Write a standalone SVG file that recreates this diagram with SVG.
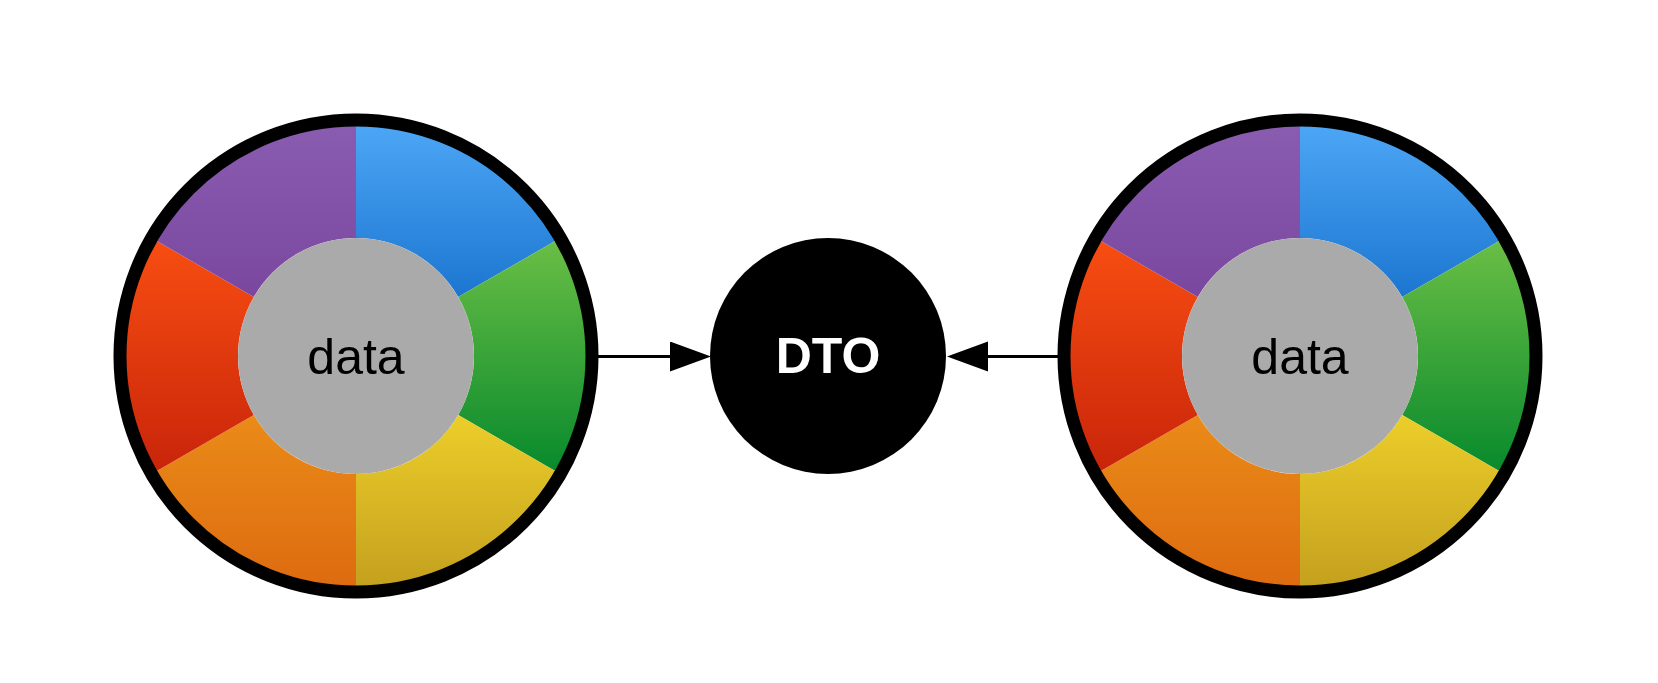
<svg xmlns="http://www.w3.org/2000/svg" width="1658" height="683" viewBox="0 0 1658 683">
<style>
.ring{fill:none;stroke:#000;stroke-width:13}
.hub{fill:#aaaaaa}
.lbl{font-family:"Liberation Sans",Arial,Helvetica,sans-serif;font-size:50px;text-anchor:middle}
.edge{stroke:#000;stroke-width:3;fill:none}
</style>
<defs>
<linearGradient id="gBlue" x1="0" y1="0" x2="0" y2="1"><stop offset="0" stop-color="#4ea7f6"/><stop offset="1" stop-color="#1c76d0"/></linearGradient>
<linearGradient id="gGreen" x1="0" y1="0" x2="0" y2="1"><stop offset="0" stop-color="#6bbf46"/><stop offset="1" stop-color="#07892c"/></linearGradient>
<linearGradient id="gYellow" x1="0" y1="0" x2="0" y2="1"><stop offset="0" stop-color="#ecce2a"/><stop offset="1" stop-color="#c39f1e"/></linearGradient>
<linearGradient id="gOrange" x1="0" y1="0" x2="0" y2="1"><stop offset="0" stop-color="#ea8b18"/><stop offset="1" stop-color="#dd6a10"/></linearGradient>
<linearGradient id="gRed" x1="0" y1="0" x2="0" y2="1"><stop offset="0" stop-color="#f84e12"/><stop offset="1" stop-color="#c8240a"/></linearGradient>
<linearGradient id="gPurple" x1="0" y1="0" x2="0" y2="1"><stop offset="0" stop-color="#8a5db1"/><stop offset="1" stop-color="#7a479f"/></linearGradient>
<marker id="arrow" markerUnits="userSpaceOnUse" markerWidth="42" markerHeight="31" refX="0" refY="15" orient="auto">
<path d="M0,0 L41,15 L0,30 Z" fill="#000"/>
</marker>
</defs>
<g id="connectors">
<line class="edge" x1="598" y1="356.5" x2="670" y2="356.5" marker-end="url(#arrow)"/>
<line class="edge" x1="1058" y1="356.5" x2="988" y2="356.5" marker-end="url(#arrow)"/>
</g>
<g id="data-left" transform="translate(356,356)">
<path fill="url(#gBlue)" d="M0,-236 A236,236 0 0 1 204.4,-118 L102.2,-59 A118,118 0 0 0 0,-118 Z"/>
<path fill="url(#gGreen)" d="M204.4,-118 A236,236 0 0 1 204.4,118 L102.2,59 A118,118 0 0 0 102.2,-59 Z"/>
<path fill="url(#gYellow)" d="M204.4,118 A236,236 0 0 1 0,236 L0,118 A118,118 0 0 0 102.2,59 Z"/>
<path fill="url(#gOrange)" d="M0,236 A236,236 0 0 1 -204.4,118 L-102.2,59 A118,118 0 0 0 0,118 Z"/>
<path fill="url(#gRed)" d="M-204.4,118 A236,236 0 0 1 -204.4,-118 L-102.2,-59 A118,118 0 0 0 -102.2,59 Z"/>
<path fill="url(#gPurple)" d="M-204.4,-118 A236,236 0 0 1 0,-236 L0,-118 A118,118 0 0 0 -102.2,-59 Z"/>
<circle class="ring" r="236"/>
<circle class="hub" r="118"/>
<text class="lbl" x="0" y="18" fill="#000">data</text>
</g>
<g id="dto" transform="translate(828,356)">
<circle r="118" fill="#000"/>
<text class="lbl" x="0" y="17" fill="#fff" font-weight="bold">DTO</text>
</g>
<g id="data-right" transform="translate(1300,356)">
<path fill="url(#gBlue)" d="M0,-236 A236,236 0 0 1 204.4,-118 L102.2,-59 A118,118 0 0 0 0,-118 Z"/>
<path fill="url(#gGreen)" d="M204.4,-118 A236,236 0 0 1 204.4,118 L102.2,59 A118,118 0 0 0 102.2,-59 Z"/>
<path fill="url(#gYellow)" d="M204.4,118 A236,236 0 0 1 0,236 L0,118 A118,118 0 0 0 102.2,59 Z"/>
<path fill="url(#gOrange)" d="M0,236 A236,236 0 0 1 -204.4,118 L-102.2,59 A118,118 0 0 0 0,118 Z"/>
<path fill="url(#gRed)" d="M-204.4,118 A236,236 0 0 1 -204.4,-118 L-102.2,-59 A118,118 0 0 0 -102.2,59 Z"/>
<path fill="url(#gPurple)" d="M-204.4,-118 A236,236 0 0 1 0,-236 L0,-118 A118,118 0 0 0 -102.2,-59 Z"/>
<circle class="ring" r="236"/>
<circle class="hub" r="118"/>
<text class="lbl" x="0" y="18" fill="#000">data</text>
</g>
</svg>
